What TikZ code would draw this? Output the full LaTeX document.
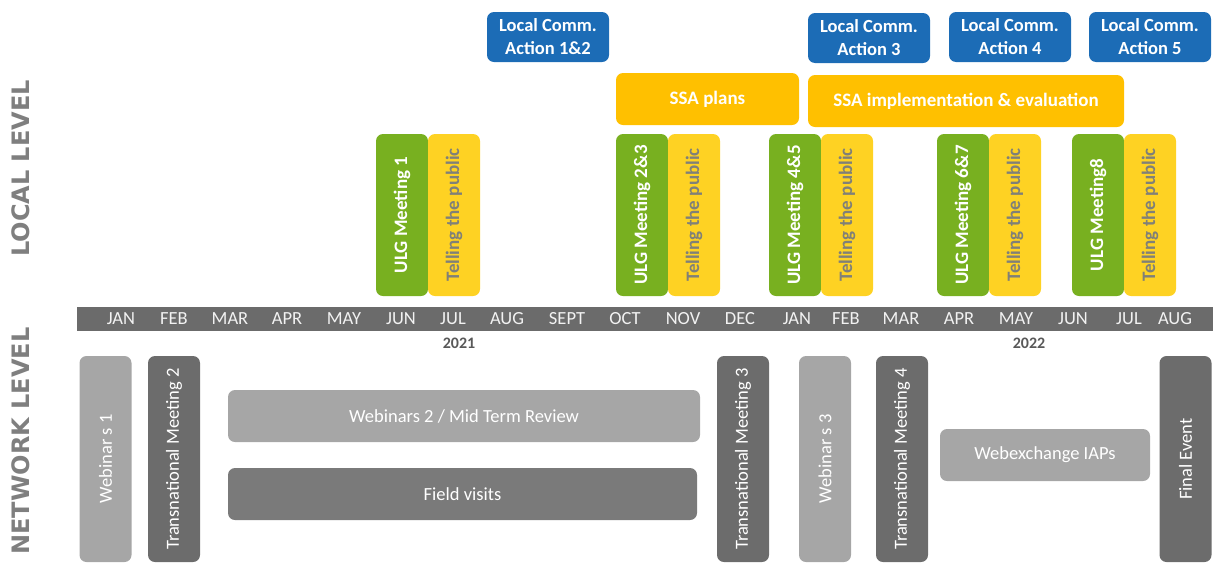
\documentclass[tikz,border=0pt]{standalone}
\usepackage{fontspec}
\setmainfont{Carlito}
\newfontfamily\sidefont{DejaVu Sans}
\definecolor{cblue}{RGB}{28,108,182}
\definecolor{corange}{RGB}{255,192,0}
\definecolor{cgreen}{RGB}{120,176,32}
\definecolor{cyellow}{RGB}{254,210,35}
\definecolor{ctelltext}{RGB}{128,128,120}
\definecolor{clight}{RGB}{166,166,166}
\definecolor{cdark}{RGB}{108,108,108}
\definecolor{cfield}{RGB}{122,122,122}
\definecolor{cbar}{RGB}{107,107,107}
\definecolor{cmonth}{RGB}{242,242,242}
\definecolor{cyear}{RGB}{89,89,89}
\definecolor{cside}{RGB}{127,127,127}
\begin{document}
\begin{tikzpicture}[x=1pt,y=-1pt,
  box/.style={rounded corners=7pt, inner sep=0pt, text=white},
  lcbox/.style={box, fill=cblue, align=center, font=\fontsize{18.5}{23}\selectfont\bfseries, minimum width=122pt, minimum height=50pt},
  ssabox/.style={box, fill=corange, font=\fontsize{19}{22}\selectfont\bfseries, minimum height=52pt},
  ulgbox/.style={box, fill=cgreen, rotate=90, font=\fontsize{19}{22}\selectfont\bfseries, minimum width=162pt, minimum height=52pt},
  tellbox/.style={box, fill=cyellow, text=ctelltext, rotate=90, font=\fontsize{19}{22}\selectfont\bfseries, minimum width=162pt, minimum height=52pt},
  netv/.style={box, rotate=90, font=\fontsize{18.5}{22}\selectfont, minimum width=206pt, minimum height=52pt},
  neth/.style={box, font=\fontsize{18.5}{22}\selectfont, minimum height=52pt},
  month/.style={inner sep=0pt, text=cmonth, font=\fontsize{18.5}{22}\selectfont},
  year/.style={inner sep=0pt, text=cyear, font=\fontsize{16}{19}\selectfont\bfseries},
  side/.style={inner sep=0pt, rotate=90, text=cside, font=\fontsize{24}{28}\sidefont\bfseries}
]
\useasboundingbox (0,0) rectangle (1213,563);

% side labels
\node[side] (local) at (21,168.5) {LOCAL LEVEL};
\node[side] (network) at (21,441) {NETWORK LEVEL};

% local communication actions
\node[lcbox] (lc12) at (548,37) {Local Comm.\\Action 1\&2};
\node[lcbox] (lc3) at (869,38) {Local Comm.\\Action 3};
\node[lcbox] (lc4) at (1010,37) {Local Comm.\\Action 4};
\node[lcbox] (lc5) at (1150,37) {Local Comm.\\Action 5};

% SSA
\node[ssabox, minimum width=183pt] (ssaplans) at (707.5,99) {SSA plans};
\node[ssabox, minimum width=316pt] (ssaimpl) at (966,101) {SSA implementation \& evaluation};

% ULG meetings and telling the public
\node[ulgbox] (ulg1) at (402,215) {ULG Meeting 1};
\node[tellbox] (tel1) at (454,215) {Telling the public};
\node[ulgbox] (ulg23) at (642,215) {ULG Meeting 2\&3};
\node[tellbox] (tel23) at (694,215) {Telling the public};
\node[ulgbox] (ulg45) at (795,215) {ULG Meeting 4\&5};
\node[tellbox] (tel45) at (847,215) {Telling the public};
\node[ulgbox] (ulg67) at (963,215) {ULG Meeting 6\&7};
\node[tellbox] (tel67) at (1015,215) {Telling the public};
\node[ulgbox] (ulg8) at (1098,215) {ULG Meeting8};
\node[tellbox] (tel8) at (1150,215) {Telling the public};

% timeline bar
\node[fill=cbar, inner sep=0pt, minimum width=1136pt, minimum height=24pt] (bar) at (645,319) {};
\node[month] (m1) at (121,319) {JAN};
\node[month] (m2) at (174,319) {FEB};
\node[month] (m3) at (230,319) {MAR};
\node[month] (m4) at (287,319) {APR};
\node[month] (m5) at (344,319) {MAY};
\node[month] (m6) at (401,319) {JUN};
\node[month] (m7) at (453,319) {JUL};
\node[month] (m8) at (507,319) {AUG};
\node[month] (m9) at (567,319) {SEPT};
\node[month] (m10) at (625,319) {OCT};
\node[month] (m11) at (683,319) {NOV};
\node[month] (m12) at (740,319) {DEC};
\node[month] (m13) at (797,319) {JAN};
\node[month] (m14) at (846,319) {FEB};
\node[month] (m15) at (901,319) {MAR};
\node[month] (m16) at (959,319) {APR};
\node[month] (m17) at (1016,319) {MAY};
\node[month] (m18) at (1073,319) {JUN};
\node[month] (m19) at (1129,319) {JUL};
\node[month] (m20) at (1175,319) {AUG};
\node[year] (y2021) at (459,343) {2021};
\node[year] (y2022) at (1029,343) {2022};

% network level
\node[netv, fill=clight] (web1) at (105.5,459) {Webinar s 1};
\node[netv, fill=cdark] (tm2) at (174,459) {Transnational Meeting 2};
\node[neth, fill=clight, minimum width=472pt] (web2) at (464,416) {Webinars 2 / Mid Term Review};
\node[neth, fill=cfield, minimum width=469pt] (field) at (462.5,494) {Field visits};
\node[netv, fill=cdark] (tm3) at (743,459) {Transnational Meeting 3};
\node[netv, fill=clight] (web3) at (825,459) {Webinar s 3};
\node[netv, fill=cdark] (tm4) at (902,459) {Transnational Meeting 4};
\node[neth, fill=clight, minimum width=210pt] (webex) at (1045,455) {Webexchange IAPs};
\node[netv, fill=cdark] (final) at (1185.5,459) {Final Event};
\end{tikzpicture}
\end{document}
